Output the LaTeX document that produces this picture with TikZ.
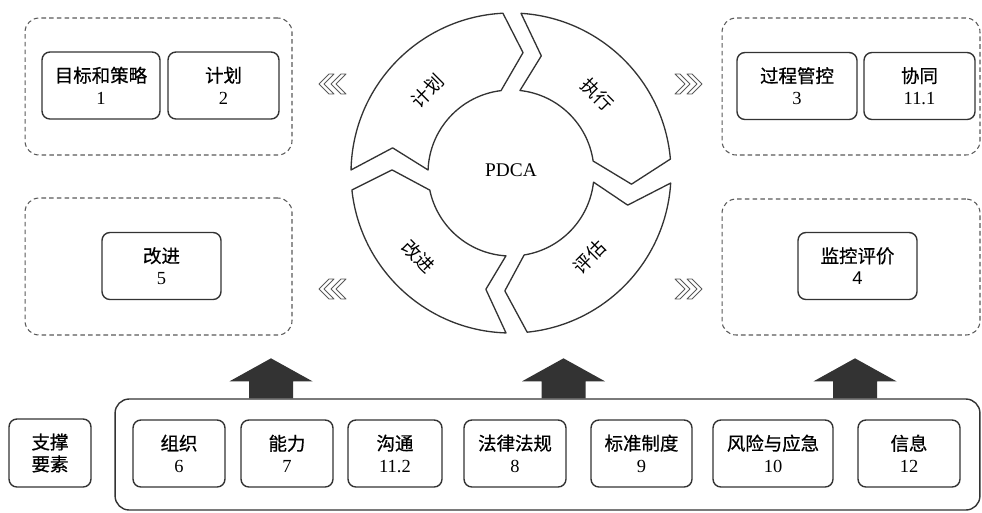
\documentclass[tikz,border=0pt]{standalone}
\usepackage{fontspec}
\setmainfont{Liberation Serif}
\newfontfamily\cjk{Noto Sans CJK SC}
\newfontfamily\cjkb{Noto Sans CJK SC}[FakeBold=0.7]
\newfontfamily\sansdigit{Liberation Sans}
\usetikzlibrary{positioning}

\begin{document}
\begin{tikzpicture}[x=0.02cm, y=-0.02cm, line join=round,
  box/.style={draw=black!80, line width=0.8pt, rounded corners=4.5pt, align=center,
    inner sep=0pt, minimum height=1.34cm, font=\fontsize{10.5}{12.5}\selectfont\cjkb},
  group/.style={draw=black!65, line width=0.6pt, dash pattern=on 2.6pt off 1.8pt,
    rounded corners=8pt, inner sep=0pt},
  ring/.style={draw=black!80, line width=0.75pt, fill=white},
  ringtext/.style={font=\fontsize{10.5}{12}\selectfont\cjk},
  bigup/.style={fill=black!80},
  chev/.style={draw=black!65, line width=0.5pt}]
\useasboundingbox (0,0) rectangle (982,512);

% dashed groups
\node[group, minimum width=5.34cm, minimum height=2.74cm] (grpP) at (158.5,86.5) {};
\node[group, minimum width=5.16cm, minimum height=2.74cm] (grpD) at (851,86.5) {};
\node[group, minimum width=5.34cm, minimum height=2.74cm] (grpA) at (158.5,266.5) {};
\node[group, minimum width=5.16cm, minimum height=2.72cm] (grpC) at (851,267) {};

% elements
\node[box, minimum width=2.36cm] (goal) at (101,85.5) {目标和策略\\{\rmfamily 1}};
\node[box, minimum width=2.22cm] (plan) at (223.5,85.5) {计划\\{\rmfamily 2}};
\node[box, minimum width=2.40cm] (proc) at (797,86) {过程管控\\{\rmfamily 3}};
\node[box, minimum width=2.22cm] (coop) at (919.5,86) {协同\\{\rmfamily 11.1}};
\node[box, minimum width=2.38cm] (impr) at (161.5,266) {改进\\{\rmfamily 5}};
\node[box, minimum width=2.38cm] (moni) at (857.5,266) {监控评价\\{\sansdigit 4}};

% support row
\node[draw=black!80, line width=0.8pt, rounded corners=8pt, minimum width=17.3cm,
  minimum height=2.22cm] (sup) at (547.5,454.5) {};
\node[box, minimum width=1.64cm, minimum height=1.36cm] (base) at (50,453) {支撑\\要素};
\node[box, minimum width=1.84cm] (org) at (179,453.5) {组织\\{\rmfamily 6}};
\node[box, minimum width=1.84cm] (abil) at (287,453.5) {能力\\{\rmfamily 7}};
\node[box, minimum width=1.88cm] (comm) at (395,453.5) {沟通\\{\rmfamily 11.2}};
\node[box, minimum width=2.04cm] (law) at (515,453.5) {法律法规\\{\rmfamily 8}};
\node[box, minimum width=2.02cm] (std) at (641.5,453.5) {标准制度\\{\rmfamily 9}};
\node[box, minimum width=2.40cm] (risk) at (773,453.5) {风险与应急\\{\rmfamily 10}};
\node[box, minimum width=2.04cm] (info) at (909,453.5) {信息\\{\rmfamily 12}};

% up arrows
\coordinate (upA) at (271,0 |- sup.north);
\coordinate (upB) at (563.5,0 |- sup.north);
\coordinate (upC) at (855,0 |- sup.north);
\fill[bigup] (upA) ++(-22,0) -- ++(0,-17) -- ++(-19.5,0) -- ++(41.5,-23) -- ++(41.5,23) -- ++(-19.5,0) -- ++(0,17) -- cycle;
\fill[bigup] (upB) ++(-22,0) -- ++(0,-17) -- ++(-19.5,0) -- ++(41.5,-23) -- ++(41.5,23) -- ++(-19.5,0) -- ++(0,17) -- cycle;
\fill[bigup] (upC) ++(-22,0) -- ++(0,-17) -- ++(-19.5,0) -- ++(41.5,-23) -- ++(41.5,23) -- ++(-19.5,0) -- ++(0,17) -- cycle;

% PDCA ring
\begin{scope}[shift={(511,173)}, y=0.02cm, yscale=-1]
\draw[ring] (181.1:160) arc[start angle=181.1, end angle=267.1, radius=160] -- (275.7:121)
  -- (263.1:83) arc[start angle=263.1, end angle=182.1, radius=83] -- (192:121) -- cycle;
\draw[ring] (273.6:160) arc[start angle=273.6, end angle=355, radius=160] -- (365.3:121)
  -- (351.7:83) arc[start angle=351.7, end angle=276.2, radius=83] -- (284.5:121) -- cycle;
\draw[ring] (3.6:160) arc[start angle=3.6, end angle=84.2, radius=160] -- (93:118)
  -- (80.9:83) arc[start angle=80.9, end angle=6.3, radius=83] -- (15.4:121) -- cycle;
\draw[ring] (91.8:160) arc[start angle=91.8, end angle=173.9, radius=160] -- (181.5:119)
  -- (168.1:83) arc[start angle=168.1, end angle=93.5, radius=83] -- (102.2:119) -- cycle;
\end{scope}
\node[font=\fontsize{11}{13}\selectfont] (pdca) at (511,170) {PDCA};
\node[ringtext, rotate=45] (tP) at (428,91) {计划};
\node[ringtext, rotate=-45] (tD) at (597,95) {执行};
\node[ringtext, rotate=45] (tC) at (590,257) {评估};
\node[ringtext, rotate=-45] (tA) at (418,257) {改进};

% chevrons
\draw[chev] (319,84) -- ++(10,-10) -- ++(5,0) -- ++(-10,10) -- ++(10,10) -- ++(-5,0) -- cycle;
\draw[chev] (331,84) -- ++(10,-10) -- ++(5,0) -- ++(-10,10) -- ++(10,10) -- ++(-5,0) -- cycle;
\draw[chev] (319,289) -- ++(10,-10) -- ++(5,0) -- ++(-10,10) -- ++(10,10) -- ++(-5,0) -- cycle;
\draw[chev] (331,289) -- ++(10,-10) -- ++(5,0) -- ++(-10,10) -- ++(10,10) -- ++(-5,0) -- cycle;
\draw[chev] (702,84) -- ++(-10,-10) -- ++(-5,0) -- ++(10,10) -- ++(-10,10) -- ++(5,0) -- cycle;
\draw[chev] (690,84) -- ++(-10,-10) -- ++(-5,0) -- ++(10,10) -- ++(-10,10) -- ++(5,0) -- cycle;
\draw[chev] (702,289) -- ++(-10,-10) -- ++(-5,0) -- ++(10,10) -- ++(-10,10) -- ++(5,0) -- cycle;
\draw[chev] (690,289) -- ++(-10,-10) -- ++(-5,0) -- ++(10,10) -- ++(-10,10) -- ++(5,0) -- cycle;
\end{tikzpicture}
\end{document}
